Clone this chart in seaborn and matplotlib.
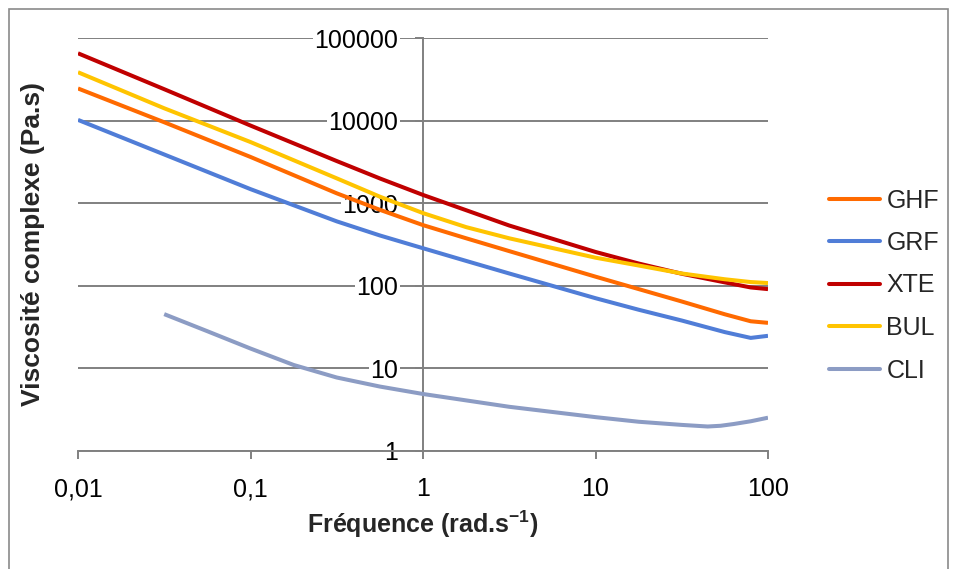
import numpy as np
import pandas as pd
import matplotlib
matplotlib.use("Agg")
import matplotlib.pyplot as plt
import seaborn as sns
from matplotlib.patches import Rectangle
from matplotlib.ticker import FixedLocator, FixedFormatter, NullLocator

# ---- data ----
freq = [0.01, 0.0316, 0.1, 0.316, 0.562, 1, 1.78, 3.16, 10, 17.8, 31.6, 56.2, 79.4, 100]
ghf = [24500, 9550, 3630, 1318, 832, 543, 376, 263, 129, 91.2, 64.6, 45.2, 37.2, 35.6]
grf = [10200, 3890, 1480, 603, 407, 285, 200, 141, 70.8, 51.3, 38.0, 27.5, 23.4, 24.8]
xte = [65300, 24000, 8710, 3240, 1995, 1259, 822, 537, 257, 186, 140, 110, 95.5, 91.2]
bul = [38500, 14100, 5500, 2000, 1200, 759, 513, 376, 219, 176, 141, 120, 111, 108]
cli_freq = [0.0316, 0.0562, 0.1, 0.178, 0.316, 0.562, 1, 3.16, 10, 17.8, 31.6,
            44.7, 53.1, 63.1, 79.4, 100]
cli = [45.4, 28.2, 17.4, 11.0, 7.76, 6.03, 4.90, 3.43, 2.57, 2.26, 2.07,
       1.98, 2.02, 2.12, 2.29, 2.53]

series = ["GHF", "GRF", "XTE", "BUL", "CLI"]
colors = ["#FF6A00", "#507DD7", "#C00000", "#FFC400", "#8C9CC4"]

x_ticks = [0.01, 0.1, 1, 10, 100]
x_ticklabels = ["0,01", "0,1", "1", "10", "100"]
y_ticks = [1, 10, 100, 1000, 10000, 100000]
y_ticklabels = ["1", "10", "100", "1000", "10000", "100000"]

rows = []
for name, xs, ys in [("GHF", freq, ghf), ("GRF", freq, grf), ("XTE", freq, xte),
                     ("BUL", freq, bul), ("CLI", cli_freq, cli)]:
    for xv, yv in zip(xs, ys):
        rows.append({"freq": xv, "visc": yv, "serie": name})
df = pd.DataFrame(rows)

sns.set_style("white")
plt.rcParams["font.family"] = ["Liberation Sans", "DejaVu Sans"]
plt.rcParams["mathtext.fontset"] = "custom"
plt.rcParams["mathtext.rm"] = "Liberation Sans"
plt.rcParams["mathtext.bf"] = "Liberation Sans:bold"

W, H = 958, 569
fig = plt.figure(figsize=(W / 100, H / 100), dpi=100)
ax = fig.add_axes([78 / W, 1 - 451 / H, 690 / W, 413 / H])
ax.set_axisbelow(True)

sns.lineplot(data=df, x="freq", y="visc", hue="serie", hue_order=series,
             palette=dict(zip(series, colors)), estimator=None, sort=True,
             lw=2.9, ax=ax, zorder=3)
for ln in ax.get_lines():
    ln.set_solid_capstyle("butt")
    ln.set_solid_joinstyle("round")
    ln.set_zorder(3)

ax.set_xscale("log")
ax.set_yscale("log")
ax.set_xlim(0.01, 100)
ax.set_ylim(1, 100000)

grey = "#808080"
ax.xaxis.set_major_locator(FixedLocator(x_ticks))
ax.xaxis.set_major_formatter(FixedFormatter(x_ticklabels))
ax.xaxis.set_minor_locator(NullLocator())
ax.yaxis.set_major_locator(FixedLocator(y_ticks))
ax.yaxis.set_major_formatter(FixedFormatter(y_ticklabels))
ax.yaxis.set_minor_locator(NullLocator())

ax.yaxis.grid(True, color=grey, lw=1.4)
ax.xaxis.grid(False)

for s in ["top", "right"]:
    ax.spines[s].set_visible(False)
ax.spines["left"].set_position(("data", 1))
for s in ["left", "bottom"]:
    ax.spines[s].set_color(grey)
    ax.spines[s].set_linewidth(1.4)

ax.tick_params(axis="x", which="major", direction="out", length=6, width=1.4,
               color=grey, labelsize=18, pad=13, labelcolor="black", bottom=True)
ax.tick_params(axis="y", which="major", direction="out", length=6, width=1.4,
               color=grey, labelsize=18, pad=12, labelcolor="black", left=True)
for lab in ax.get_yticklabels():
    lab.set_bbox(dict(fc="white", ec="none", pad=1))

ax.set_xlabel(r"Fréquence (rad.s$^{\mathbf{-1}}$)", fontsize=18, fontweight="bold", labelpad=5)
ax.set_ylabel("Viscosité complexe (Pa.s)", fontsize=19, fontweight="bold")
ax.yaxis.set_label_coords((33 - 78) / 690, 0.5)
ax.yaxis.label.set_va("center")

handles, labels = ax.get_legend_handles_labels()
leg = ax.legend(handles, labels, loc="center left",
                bbox_to_anchor=(829 / W, 1 - 285.5 / H), bbox_transform=fig.transFigure,
                frameon=False, fontsize=18, handlelength=2.05, handletextpad=0.25,
                labelspacing=0.74, borderpad=0, borderaxespad=0)
for h in leg.legend_handles:
    h.set_linewidth(2.9)
    h.set_solid_capstyle("round")

fig.patches.append(Rectangle((9 / W, -0.05), (948 - 9) / W, 1 - 9 / H + 0.05,
                             transform=fig.transFigure, fill=False,
                             ec="#8a8a8a", lw=1.2))

fig.savefig("out.png", dpi=100)
